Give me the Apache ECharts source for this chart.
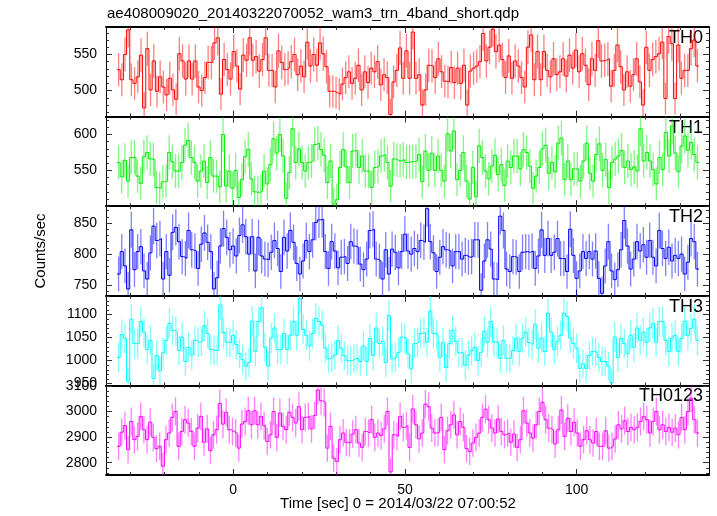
<!DOCTYPE html>
<html><head><meta charset="utf-8">
<script src="https://cdn.jsdelivr.net/npm/echarts@6/dist/echarts.min.js"></script>
<style>html,body{margin:0;padding:0;background:#fff}#c{width:717px;height:516px}</style>
</head><body><div id="c"></div>
<script>
// ---- data (counts/sec per time bin) ----
const th0 = [529,515,550,584,515,510,519,549,476,558,501,541,499,519,505,494,517,501,488,551,541,516,541,516,541,505,500,518,539,539,566,573,495,543,529,516,554,534,502,549,542,573,542,547,527,543,573,528,528,505,555,539,529,531,540,550,522,534,519,567,534,550,535,566,551,533,499,499,497,495,509,518,526,510,517,535,501,526,511,531,526,540,508,522,518,467,512,528,559,517,555,517,581,517,522,480,501,535,534,518,544,526,513,512,532,511,531,510,535,480,527,531,534,540,579,541,560,585,554,563,543,518,548,517,541,534,518,505,560,577,515,554,515,554,528,519,544,522,526,544,520,549,531,556,526,551,535,508,544,528,569,541,542,544,506,528,563,533,501,526,506,522,544,512,480,560,528,543,547,551,567,489,575,565,489,563,517,528,528,558,570,534];
const th1 = [561,541,564,535,568,568,542,532,569,575,566,565,526,525,534,535,575,562,549,549,561,585,592,568,561,535,549,563,533,568,542,542,527,600,528,549,525,550,512,537,569,579,538,520,519,521,549,531,558,594,574,600,570,511,547,608,561,580,561,549,561,563,586,588,579,571,533,563,503,509,554,579,555,533,577,578,554,570,549,549,526,554,556,570,572,561,528,566,564,563,565,561,562,562,563,572,534,577,550,574,550,570,550,535,601,577,605,537,550,575,535,510,554,513,584,568,549,538,556,571,544,558,529,563,554,570,570,552,579,575,556,525,542,554,580,585,546,561,548,588,595,537,563,537,552,552,535,563,588,546,535,572,587,550,565,526,561,566,570,578,554,563,551,555,549,608,563,575,563,551,531,568,551,603,570,612,574,548,584,598,578,589,572,561];
const th2 = [768,804,781,744,839,775,804,812,773,760,802,845,822,825,760,804,766,835,843,820,796,793,838,807,805,777,816,834,819,804,744,762,813,841,827,807,813,797,830,847,828,800,828,773,827,797,792,791,803,822,809,772,827,805,838,819,785,768,789,822,804,823,851,855,856,804,777,820,805,778,795,796,785,820,813,811,784,775,792,838,840,792,789,760,807,768,808,803,778,804,832,805,800,809,804,822,819,873,820,802,772,795,812,807,805,781,804,804,792,798,795,796,823,823,742,789,823,808,760,759,861,838,776,772,796,795,772,803,804,803,805,777,797,839,798,825,798,803,825,793,793,772,840,798,761,773,804,793,804,792,805,761,737,781,820,773,759,775,807,854,813,776,792,820,805,815,795,822,795,781,838,809,793,811,789,798,793,800,768,787,825,820,776];
const th3 = [1007,1057,1049,954,1090,1037,1037,1085,1062,1024,1044,961,1011,978,1017,1044,1081,1066,1064,1022,1051,998,1029,1012,1044,1040,1042,1076,1059,1024,1022,1022,1121,1061,1040,1039,1055,1035,1015,1002,988,996,1086,1020,1085,1115,1029,988,1049,1071,1024,1024,1059,1024,1055,1085,1055,1135,1068,1055,1032,1059,1092,1085,1077,1027,1004,1007,1012,1044,1027,1011,1000,1000,1004,1005,998,1032,998,1048,1011,1071,1037,1042,996,1098,1004,1007,1018,1051,1049,1015,982,1037,1040,1059,1061,1040,1108,1059,1055,1007,1040,985,1037,1066,1042,1017,1017,990,1012,1022,1029,1000,1018,1064,1040,1085,1040,1040,1005,1044,1005,1005,1022,1049,1020,1049,1062,1039,1035,1079,1027,1049,1020,1103,1062,1024,1042,1055,1103,1096,1049,1037,1027,983,993,983,1011,1020,1018,1007,998,998,988,952,1051,1007,1048,1037,1015,1055,1029,1071,1044,1062,1040,1071,1081,1040,1085,1085,1044,1020,1049,1055,1020,1048,1086,1055,1070,1090,1044];
const th0123 = [2864,2919,2945,2851,2961,2890,2903,2981,2929,2890,2958,2899,2855,2864,2786,2890,2916,2977,3000,2864,2922,2968,2955,2922,2864,2935,2981,2880,2932,2847,2909,2929,3032,2951,2997,2929,2922,2916,2857,2951,2961,3003,2948,3003,2948,2981,2945,2883,2909,3000,2899,2994,2942,2929,2997,2977,2955,3019,2929,2977,2981,2932,2984,3084,3042,3036,2857,2942,2818,2805,2890,2916,2880,2877,2912,2929,2877,2860,2922,2916,2968,2899,2916,2906,2932,3000,2764,2909,2903,2981,2938,2945,2860,3010,2948,2893,2916,3029,3019,2935,2916,2919,2977,2851,2925,2948,2987,2909,2961,2938,2855,2844,2877,2899,2916,2977,3009,2968,2935,2916,2971,2922,2909,2916,2880,2912,2860,2890,3003,2955,2916,2896,2948,3000,3036,2968,2935,2929,2873,2929,3006,2903,2974,2922,2958,2916,2864,2890,2925,2890,2877,2922,2864,2864,2925,2857,2864,2893,2948,2932,2964,2922,2938,2929,2938,2961,2981,2968,2916,2961,3000,2929,2948,2922,2938,2919,2935,2909,2977,2929,3000,3052,2968,2916];

const panelNames = ['TH0','TH1','TH2','TH3','TH0123'];
const panelData = [th0, th1, th2, th3, th0123];
const panelColors = ['#ff0000','#00ee00','#0000ff','#00ffff','#ff00ff'];
const binStart = -33.8, binEnd = 135.6;     // time span covered by the bins [sec]
const xMin = -37, xMax = 138.5;
const yMins = [464, 500, 733, 946, 2752];
const yMaxs = [588, 625, 877, 1141, 3102];
const yMajorTicks = [[500,550],[550,600],[750,800,850],[950,1000,1050,1100],[2800,2900,3000,3100]];
const yMinorStep = [10,10,10,10,20];
const xMajorTicks = [0, 50, 100];
const xMinorTicks = [-30,-20,-10,0,10,20,30,40,50,60,70,80,90,100,110,120,130];
const titleText = 'ae408009020_20140322070052_wam3_trn_4band_short.qdp';
const xTitle = 'Time [sec] 0 = 2014/03/22 07:00:52';
const yTitle = 'Counts/sec';

// ---- layout ----
const FONT = '"Liberation Sans", Arial, Helvetica, sans-serif';
const plotLeft = 106, plotRight = 709, plotTop = 27, plotBottom = 475;
const nP = 5, pH = (plotBottom - plotTop) / nP;

const grids = [], xAxes = [], yAxes = [], series = [], graphics = [];
function minorList(lo, hi, step){ const out=[]; for(let v=Math.ceil(lo/step)*step; v<=hi; v+=step) out.push(v); return out; }
const plain = v => String(v);

for (let i = 0; i < nP; i++) {
  const top = plotTop + i * pH;
  grids.push({left: plotLeft, width: plotRight - plotLeft, top: top, height: pH, containLabel: false});
  const baseX = {gridIndex: i, type: 'value', min: xMin, max: xMax, splitLine: {show: false}, axisPointer:{show:false}};
  const lineOn = {show: true, onZero: false, lineStyle: {color: '#000', width: 1.8}};
  const lineOff = {show: false, onZero: false};
  xAxes.push(Object.assign({}, baseX, {position: 'bottom', axisLine: lineOn,
    axisTick: {show: true, inside: true, length: 6, customValues: xMajorTicks, lineStyle: {color: '#333'}},
    axisLabel: {show: i === nP - 1, customValues: xMajorTicks, formatter: plain, color: '#000', fontSize: 14, fontFamily: FONT, margin: 8}}));
  xAxes.push(Object.assign({}, baseX, {position: 'bottom', axisLine: lineOff,
    axisTick: {show: true, inside: true, length: 3, customValues: xMinorTicks, lineStyle: {color: '#333'}},
    axisLabel: {show: false}}));
  xAxes.push(Object.assign({}, baseX, {position: 'top', axisLine: lineOn,
    axisTick: {show: true, inside: true, length: 6, customValues: xMajorTicks, lineStyle: {color: '#333'}},
    axisLabel: {show: false}}));
  xAxes.push(Object.assign({}, baseX, {position: 'top', axisLine: lineOff,
    axisTick: {show: true, inside: true, length: 3, customValues: xMinorTicks, lineStyle: {color: '#333'}},
    axisLabel: {show: false}}));

  const minors = minorList(yMins[i], yMaxs[i], yMinorStep[i]);
  const baseY = {gridIndex: i, type: 'value', min: yMins[i], max: yMaxs[i], splitLine: {show: false}, axisPointer:{show:false}};
  const yLine = {show: true, onZero: false, lineStyle: {color: '#000', width: 1}};
  yAxes.push(Object.assign({}, baseY, {position: 'left', axisLine: yLine,
    axisTick: {show: true, inside: true, length: 6, customValues: yMajorTicks[i], lineStyle: {color: '#333'}},
    axisLabel: {show: true, customValues: yMajorTicks[i], formatter: plain, color: '#000', fontSize: 14, fontFamily: FONT, margin: 9}}));
  yAxes.push(Object.assign({}, baseY, {position: 'left', axisLine: lineOff,
    axisTick: {show: true, inside: true, length: 3, customValues: minors, lineStyle: {color: '#333'}},
    axisLabel: {show: false}}));
  yAxes.push(Object.assign({}, baseY, {position: 'right', axisLine: yLine,
    axisTick: {show: true, inside: true, length: 6, customValues: yMajorTicks[i], lineStyle: {color: '#333'}},
    axisLabel: {show: false}}));
  yAxes.push(Object.assign({}, baseY, {position: 'right', axisLine: lineOff,
    axisTick: {show: true, inside: true, length: 3, customValues: minors, lineStyle: {color: '#333'}},
    axisLabel: {show: false}}));

  const vals = panelData[i];
  const bw = (binEnd - binStart) / vals.length;
  const stepPts = [], errPts = [];
  vals.forEach((v, k) => {
    const l = binStart + k * bw, r = l + bw;
    stepPts.push([l, v], [r, v]);
    const e = Math.sqrt(v);   // Poisson error of a 1-s bin
    errPts.push([(l + r) / 2, Math.max(v - e, yMins[i]), Math.min(v + e, yMaxs[i])]);
  });
  const color = panelColors[i];
  series.push({
    type: 'custom', xAxisIndex: 4 * i, yAxisIndex: 4 * i, data: errPts, clip: true, silent: true,
    encode: {x: 0, y: [1, 2]},
    renderItem: function (params, api) {
      const p1 = api.coord([api.value(0), api.value(1)]);
      const p2 = api.coord([api.value(0), api.value(2)]);
      return {type: 'line', shape: {x1: p1[0], y1: p1[1], x2: p2[0], y2: p2[1]},
        style: {stroke: color, lineWidth: 1.3, opacity: 0.5}};
    }
  });
  series.push({
    type: 'line', xAxisIndex: 4 * i, yAxisIndex: 4 * i, data: stepPts, symbol: 'none', silent: true,
    lineStyle: {color: color, width: 1}, animation: false, clip: true
  });

  graphics.push({type: 'text', x: 703, y: top + 11,
    style: {text: panelNames[i], font: '18px ' + FONT, fill: '#000', textAlign: 'right', textVerticalAlign: 'middle'}});
}

graphics.push({type: 'text', x: 107, y: 14,
  style: {text: titleText, font: '15px ' + FONT, fill: '#000', textAlign: 'left', textVerticalAlign: 'middle'}});
graphics.push({type: 'text', x: 398, y: 504,
  style: {text: xTitle, font: '15px ' + FONT, fill: '#000', textAlign: 'center', textVerticalAlign: 'middle'}});
graphics.push({type: 'text', x: 41, y: 251, rotation: Math.PI / 2,
  style: {text: yTitle, font: '15px ' + FONT, fill: '#000', textAlign: 'center', textVerticalAlign: 'middle'}});

const chart = echarts.init(document.getElementById('c'), null, {renderer: 'canvas'});
chart.setOption({
  animation: false,
  backgroundColor: '#fff',
  grid: grids, xAxis: xAxes, yAxis: yAxes, series: series, graphic: graphics
});
</script></body></html>
